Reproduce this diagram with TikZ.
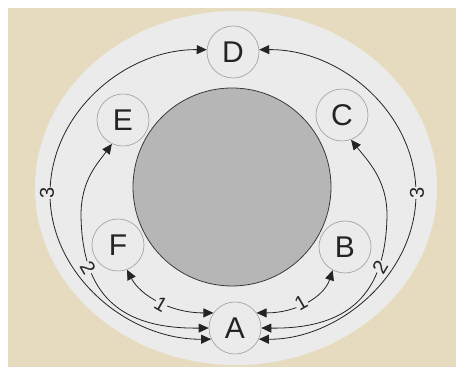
\documentclass[tikz,border=0pt]{standalone}
\usepackage{fontspec}
\setmainfont{Liberation Sans}
\usetikzlibrary{arrows.meta}
\definecolor{beige}{HTML}{E6DBBF}
\definecolor{pale}{HTML}{EBEBEB}
\definecolor{bigfill}{HTML}{B6B6B6}
\definecolor{ink}{HTML}{242424}
\tikzset{
  station/.style={circle, draw=gray!70, line width=0.7pt, fill=pale, minimum size=52pt, inner sep=0pt, font=\fontsize{30}{31}\selectfont, text=ink},
  link/.style={line width=0.8pt, draw=ink, {Triangle[length=10pt,width=9pt]}-{Triangle[length=10pt,width=9pt]}},
  num/.style={fill=pale, inner sep=0.6pt, font=\fontsize{20}{21}\selectfont, text=ink}
}
\begin{document}
\begin{tikzpicture}[x=1pt,y=1pt]
\useasboundingbox (0,0) rectangle (456,375);
\fill[white] (0,0) rectangle (456,375);
\fill[beige] (8,8) rectangle (456,367);
\fill[pale] (236,187) ellipse [x radius=201, y radius=177];
\node[circle, draw=ink!90, line width=0.8pt, fill=bigfill, minimum size=198pt, inner sep=0pt] (hub) at (232,188) {};
\node[station] (D) at (233,323) {D};
\node[station] (E) at (123,255) {E};
\node[station] (C) at (342,260) {C};
\node[station] (F) at (118,130) {F};
\node[station] (B) at (345,128) {B};
\node[station] (A) at (235,47) {A};
% outer arcs (3)
\draw[link] (D.175) .. controls (125,326) and (50,262) .. (50,181) .. controls (50,100) and (128,35) .. (A.205);
\draw[link] (D.5) .. controls (341,326) and (416,262) .. (416,181) .. controls (416,100) and (338,35) .. (A.-25);
% middle arcs (2)
\draw[link] (A.west) .. controls (120,46) and (82,80) .. (81,160) .. controls (81,195) and (98,212) .. (E.-115);
\draw[link] (A.east) .. controls (348,46) and (386,80) .. (387,160) .. controls (387,195) and (368,214) .. (C.-70);
% inner arcs (1)
\draw[link] (F.-70) .. controls (140,80) and (170,62) .. (A.145);
\draw[link] (A.35) .. controls (296,62) and (324,78) .. (B.-118);
% labels
\node[num, rotate=90] (l3a) at (47,182) {3};
\node[num, rotate=90] (l3b) at (417,182) {3};
\node[num, rotate=-60] (l2a) at (88,107) {2};
\node[num, rotate=60] (l2b) at (380,108) {2};
\node[num, rotate=-30] (l1a) at (161,71) {1};
\node[num, rotate=30] (l1b) at (301,72) {1};
\end{tikzpicture}
\end{document}
